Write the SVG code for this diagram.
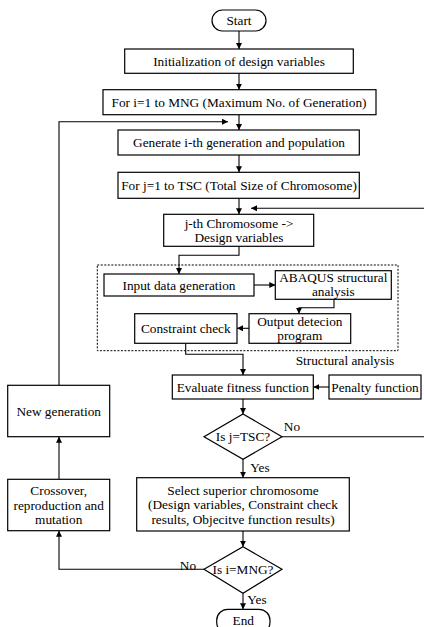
<svg xmlns="http://www.w3.org/2000/svg" width="424" height="627" viewBox="0 0 424 627">
<defs>
<style>
.b{fill:#fff;stroke:#000;stroke-width:1.2}
.t{font-family:"Liberation Serif","Times New Roman",serif;font-size:13.3px;fill:#000;text-anchor:middle;dominant-baseline:central}
.c{fill:none;stroke:#000;stroke-width:1.1}
.d{fill:none;stroke:#000;stroke-width:1;stroke-dasharray:2,1.5}
</style>
<marker id="a" viewBox="0 0 6 6" markerWidth="6" markerHeight="6" refX="6" refY="3" orient="auto" markerUnits="userSpaceOnUse">
<path d="M0,0 L6,3 L0,6 z" fill="#000"/>
</marker>
</defs>
<rect width="424" height="627" fill="#fff"/>

<g id="connectors">
<path class="c" d="M239,31 V49" marker-end="url(#a)"/>
<path class="c" d="M239,73 V89.7" marker-end="url(#a)"/>
<path class="c" d="M239,114.7 V130" marker-end="url(#a)"/>
<path class="c" d="M239,155 V172.3" marker-end="url(#a)"/>
<path class="c" d="M239,198.3 V214.3" marker-end="url(#a)"/>
<path class="c" d="M424,208.3 H251" marker-end="url(#a)"/>
<path class="c" d="M239,246.3 V255.3 H179 V274" marker-end="url(#a)"/>
<path class="c" d="M254,285 H275.3" marker-end="url(#a)"/>
<path class="c" d="M334,299.3 V307.7 H299 V313.7" marker-end="url(#a)"/>
<path class="c" d="M249,328.3 H237" marker-end="url(#a)"/>
<path class="c" d="M185.7,343.3 V354.3 H243 V375" marker-end="url(#a)"/>
<path class="c" d="M329,387 H313.3" marker-end="url(#a)"/>
<path class="c" d="M243,399 V414" marker-end="url(#a)"/>
<path class="c" d="M282,436.7 H424"/>
<path class="c" d="M243,459 V477.7" marker-end="url(#a)"/>
<path class="c" d="M243,531 V546.7" marker-end="url(#a)"/>
<path class="c" d="M204,569.3 H59 V530.7" marker-end="url(#a)"/>
<path class="c" d="M59,479.3 V436.7" marker-end="url(#a)"/>
<path class="c" d="M59,385.3 V121.7 H228" marker-end="url(#a)"/>
<path class="c" d="M243,593.3 V609.3" marker-end="url(#a)"/>
</g>

<g id="structural-analysis">
<rect class="d" x="97.3" y="265" width="300.7" height="85.7"/>
<text class="t" x="345" y="360">Structural analysis</text>
</g>

<g id="start"><rect class="b" x="212" y="10" width="54" height="21" rx="10.5"/><text class="t" x="239" y="20.5">Start</text></g>
<g id="init"><rect class="b" x="124.7" y="49" width="228.6" height="24.3"/><text class="t" x="239" y="61.5">Initialization of design variables</text></g>
<g id="for-i"><rect class="b" x="103" y="89.7" width="273" height="25"/><text class="t" x="239" y="102">For i=1 to MNG (Maximum No. of Generation)</text></g>
<g id="generate"><rect class="b" x="118" y="130" width="241.3" height="25"/><text class="t" x="239" y="142.5">Generate i-th generation and population</text></g>
<g id="for-j"><rect class="b" x="118" y="172.3" width="241.3" height="26"/><text class="t" x="239" y="185.3">For j=1 to TSC (Total Size of Chromosome)</text></g>
<g id="jth"><rect class="b" x="163.7" y="214.3" width="150" height="32"/><text class="t" x="239" y="223.3">j-th Chromosome -&gt;</text><text class="t" x="239" y="237.3">Design variables</text></g>
<g id="input"><rect class="b" x="104" y="274" width="150" height="22"/><text class="t" x="179" y="285">Input data generation</text></g>
<g id="abaqus"><rect class="b" x="275.3" y="270.7" width="116" height="28.6"/><text class="t" x="333.3" y="277.7">ABAQUS structural</text><text class="t" x="333.3" y="291.3">analysis</text></g>
<g id="output"><rect class="b" x="249" y="313.7" width="101.7" height="29.6"/><text class="t" x="299.8" y="321.3">Output detecion</text><text class="t" x="299.8" y="335.7">program</text></g>
<g id="constraint"><rect class="b" x="134.7" y="313.7" width="102.3" height="29.6"/><text class="t" x="185.8" y="328">Constraint check</text></g>
<g id="evaluate"><rect class="b" x="172.3" y="375" width="141" height="24"/><text class="t" x="242.8" y="387">Evaluate fitness function</text></g>
<g id="penalty"><rect class="b" x="329" y="375" width="92" height="24"/><text class="t" x="375" y="387">Penalty function</text></g>
<g id="is-j"><path class="b" d="M243,414 L282,436.7 L243,459.3 L204,436.7 Z"/><text class="t" x="243" y="436.7">Is j=TSC?</text>
<text class="t" x="292" y="426.7">No</text><text class="t" x="260" y="467.3">Yes</text></g>
<g id="select"><rect class="b" x="136.7" y="477.7" width="212.6" height="53.3"/><text class="t" x="243" y="490">Select superior chromosome</text><text class="t" x="243" y="504.5">(Design variables, Constraint check</text><text class="t" x="243" y="519.5">results, Objecitve function results)</text></g>
<g id="is-i"><path class="b" d="M243,546.7 L282,569.3 L243,593.3 L204,569.3 Z"/><text class="t" x="243" y="569.3">Is i=MNG?</text>
<text class="t" x="188" y="565">No</text><text class="t" x="257" y="599">Yes</text></g>
<g id="crossover"><rect class="b" x="7.7" y="479.3" width="102" height="51.4"/><text class="t" x="58.7" y="490.7">Crossover,</text><text class="t" x="58.7" y="505">reproduction and</text><text class="t" x="58.7" y="519.3">mutation</text></g>
<g id="new-gen"><rect class="b" x="7.7" y="385.3" width="102" height="51.4"/><text class="t" x="58.7" y="411">New generation</text></g>
<g id="end"><rect class="b" x="216.7" y="609.3" width="53.3" height="24" rx="11"/><text class="t" x="243.3" y="620">End</text></g>
</svg>
